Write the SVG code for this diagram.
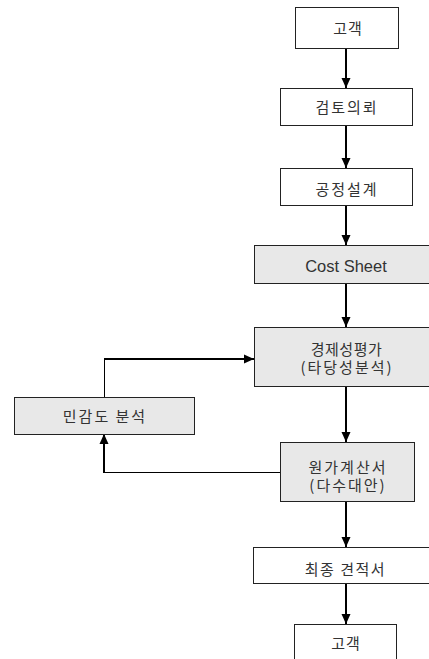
<svg xmlns="http://www.w3.org/2000/svg" width="429" height="659" viewBox="0 0 429 659">
<defs>
<style>
.box{stroke:#222;stroke-width:1;fill:#fff}
.gray{fill:#e8e8e8}
.t{font-family:"Noto Sans CJK KR","Liberation Sans",sans-serif;font-size:15px;fill:#333;text-anchor:middle;letter-spacing:2px}
.e{font-family:"Liberation Sans","Noto Sans CJK KR",sans-serif;font-size:16.5px;fill:#333;text-anchor:middle}
.thick{stroke:#000;stroke-width:2;fill:none}
.thin{stroke:#000;stroke-width:1;fill:none}
</style>
<marker id="ah" markerUnits="userSpaceOnUse" markerWidth="10" markerHeight="10" viewBox="0 0 10 10" refX="10" refY="5" orient="auto">
<path d="M0,0.5 L10,5 L0,9.5 Z" fill="#000"/>
</marker>
</defs>
<rect width="429" height="659" fill="#fff"/>
<g id="connectors">
<path class="thick" d="M346 48 V88" marker-end="url(#ah)"/>
<path class="thick" d="M346 125 V168" marker-end="url(#ah)"/>
<path class="thick" d="M346 205 V245" marker-end="url(#ah)"/>
<path class="thick" d="M346 283 V327" marker-end="url(#ah)"/>
<path class="thick" d="M346 386 V442" marker-end="url(#ah)"/>
<path class="thick" d="M346 501 V547" marker-end="url(#ah)"/>
<path class="thick" d="M346 583 V624" marker-end="url(#ah)"/>
<path class="thin" d="M280 472.5 H104"/>
<path class="thick" d="M104 473 V434" marker-end="url(#ah)"/>
<path class="thin" d="M104.5 397 V359"/>
<path class="thick" d="M104 359 H254" marker-end="url(#ah)"/>
</g>
<g id="n1"><rect class="box" x="295.5" y="7.5" width="103" height="41"/><text class="t" x="348" y="34" style="letter-spacing:1px">고객</text></g>
<g id="n2"><rect class="box" x="280.5" y="88.5" width="132" height="37"/><text class="t" x="347" y="113">검토의뢰</text></g>
<g id="n3"><rect class="box" x="280.5" y="168.5" width="132" height="37"/><text class="t" x="347" y="195">공정설계</text></g>
<g id="n4"><rect class="box gray" x="254.5" y="245.5" width="184" height="38"/><text class="e" x="346" y="272">Cost Sheet</text></g>
<g id="n5"><rect class="box gray" x="254.5" y="327.5" width="184" height="59"/><text class="t" x="346.5" y="355" style="letter-spacing:0.5px">경제성평가</text><text class="t" x="347" y="373">(타당성분석)</text></g>
<g id="n6"><rect class="box gray" x="14.5" y="397.5" width="180" height="37"/><text class="t" x="105" y="422">민감도 분석</text></g>
<g id="n7"><rect class="box gray" x="280.5" y="442.5" width="134" height="59"/><text class="t" x="348" y="473">원가계산서</text><text class="t" x="348" y="491">(다수대안)</text></g>
<g id="n8"><rect class="box" x="253.5" y="547.5" width="185" height="36"/><text class="t" x="345.5" y="575" style="letter-spacing:1.5px">최종 견적서</text></g>
<g id="n9"><rect class="box" x="294.5" y="624.5" width="102" height="45"/><text class="t" x="346" y="649" style="letter-spacing:1px">고객</text></g>
</svg>
